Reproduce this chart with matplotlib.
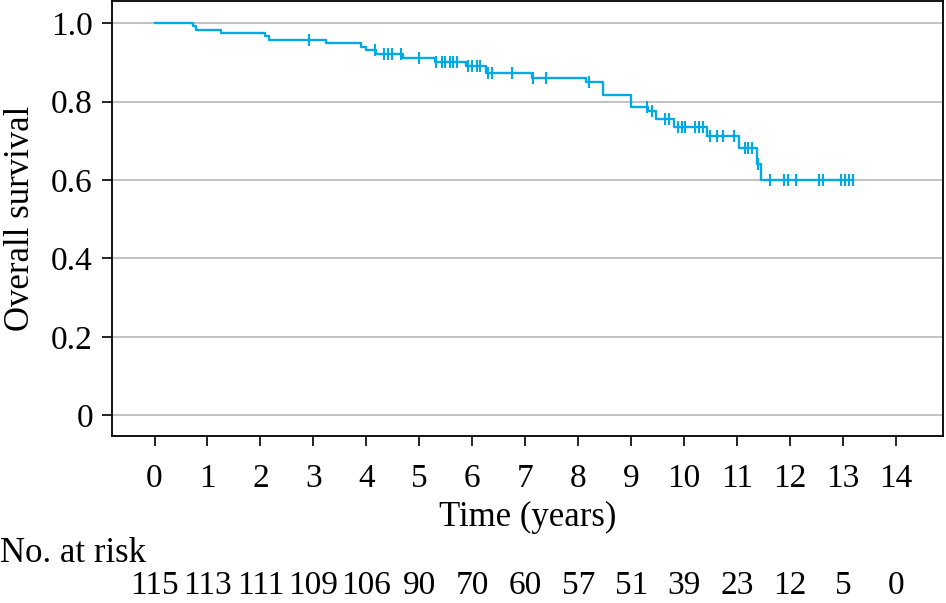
import numpy as np
import matplotlib
matplotlib.use("Agg")
import matplotlib.pyplot as plt
import matplotlib.transforms as mtransforms

# Kaplan-Meier steps
event_t = [0.72, 0.79, 1.25, 2.08, 2.17, 3.24, 3.90, 4.00, 4.19, 4.70, 5.30,
           5.89, 6.26, 7.13, 8.15, 8.47, 8.99, 9.32, 9.47, 9.81, 10.43, 11.04,
           11.38, 11.46]
event_s = [0.992, 0.983, 0.974, 0.967, 0.956, 0.949, 0.940, 0.931, 0.922,
           0.912, 0.901, 0.891, 0.872, 0.861, 0.849, 0.817, 0.787, 0.776,
           0.755, 0.736, 0.712, 0.681, 0.642, 0.600]
censor_t = [2.92, 4.17, 4.34, 4.40, 4.49, 4.66, 5.00, 5.32, 5.42, 5.49, 5.57,
            5.64, 5.72, 5.92, 6.00, 6.08, 6.15, 6.30, 6.38, 6.74, 7.15, 7.40,
            8.21, 9.30, 9.39, 9.64, 9.72, 9.89, 9.96, 10.02, 10.21, 10.28,
            10.36, 10.49, 10.62, 10.74, 10.94, 11.15, 11.21, 11.28, 11.40,
            11.62, 11.89, 11.96, 12.11, 12.55, 12.62, 12.96, 13.04, 13.11, 13.19]
end_t = 13.19

risk_t = list(range(0, 15))
risk_n = [115, 113, 111, 109, 106, 90, 70, 60, 57, 51, 39, 23, 12, 5, 0]

plt.rcParams['font.family'] = ['Liberation Serif', 'DejaVu Serif']
col = '#00a9e8'
fs = 24

fig = plt.figure(figsize=(9.46, 6.03), dpi=100)
ax = fig.add_axes([0.118, 0.277, 0.879, 0.721])

t = np.concatenate([[0.0], event_t, [end_t]])
s = np.concatenate([[1.0], event_s, [event_s[-1]]])
ax.step(t, s, where='post', color=col, lw=1.7, zorder=3)

idx = np.searchsorted(t, censor_t, side='right') - 1
ax.plot(censor_t, s[idx], ls='none', marker='|', ms=9, mew=1.5, color=col, zorder=3)

ax.set_xlim(-0.81, 14.89)
ax.set_ylim(-0.053, 1.056)
ax.set_xticks(risk_t)
ax.set_yticks([0, 0.2, 0.4, 0.6, 0.8, 1.0])
ax.set_yticklabels(['0', '0.2', '0.4', '0.6', '0.8', '1.0'])
ax.yaxis.grid(True, color='#bdbdbd', lw=1.3)
ax.set_axisbelow(True)
for sp in ax.spines.values():
    sp.set_linewidth(1.3)
ax.tick_params(axis='both', direction='out', length=7.5, width=1.2, labelsize=fs)
ax.tick_params(axis='x', pad=12)
ax.tick_params(axis='y', pad=6)
ax.set_xlabel('Time (years)', fontsize=fs + 1, labelpad=5)
ax.set_ylabel('Overall survival', fontsize=fs + 1, labelpad=10)

fig.text(0.0, 1 - 554 / 603, 'No. at risk', fontsize=fs + 1, ha='left', va='center')
trans = mtransforms.blended_transform_factory(ax.transData, fig.transFigure)
for x, n in zip(risk_t, risk_n):
    fig.text(x, 2 / 603, str(n), fontsize=fs, ha='center', va='bottom',
             transform=trans)

fig.savefig('out.png', dpi=100)
